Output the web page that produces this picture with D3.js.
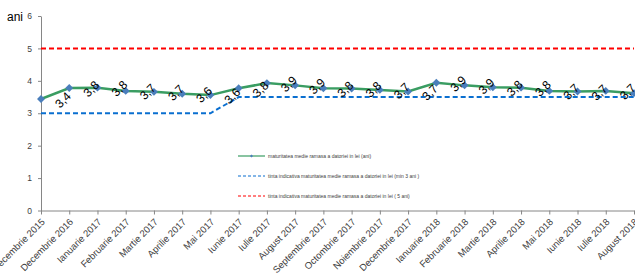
<!DOCTYPE html>
<html>
<head>
<meta charset="utf-8">
<script src="https://cdn.jsdelivr.net/npm/d3@7"></script>
<style>
  body { margin: 0; background: #fff; }
  svg { display: block; font-family: "Liberation Sans", Arial, sans-serif; }
</style>
</head>
<body>
<svg id="chart"></svg>
<script>
const months = ["Decembrie 2015", "Decembrie 2016", "Ianuarie 2017", "Februarie 2017", "Martie 2017",
    "Aprilie 2017", "Mai 2017", "Iunie 2017", "Iulie 2017", "August 2017", "Septembrie 2017",
    "Octombrie 2017", "Noiembrie 2017", "Decembrie 2017", "Ianuarie 2018", "Februarie 2018",
    "Martie 2018", "Aprilie 2018", "Mai 2018", "Iunie 2018", "Iulie 2018", "August 2018"];

const maturitate = [3.44, 3.78, 3.79, 3.69, 3.66, 3.60, 3.56, 3.77, 3.93, 3.86, 3.77,
    3.76, 3.72, 3.67, 3.94, 3.86, 3.80, 3.79, 3.69, 3.67, 3.69, 3.62];
const tintaMin = [3, 3, 3, 3, 3, 3, 3, 3.5, 3.5, 3.5, 3.5, 3.5, 3.5, 3.5, 3.5, 3.5, 3.5,
    3.5, 3.5, 3.5, 3.5, 3.5];
const tinta5 = [5, 5, 5, 5, 5, 5, 5, 5, 5, 5, 5, 5, 5, 5, 5, 5, 5, 5, 5, 5, 5, 5];

const yTicks = [0, 1, 2, 3, 4, 5, 6];

const legendLabels = ["maturitatea medie ramasa a datoriei in lei (ani)",
    "tinta indicativa maturitatea medie ramasa a datoriei in lei  (min 3 ani )",
    "tinta indicativa maturitatea medie ramasa a datoriei in lei  ( 5 ani)"];

const width = 635, height = 273;
const svg = d3.select("#chart").attr("width", width).attr("height", height);

const x = d3.scalePoint().domain(months).range([41, 634]);
const y = d3.scaleLinear().domain([0, 6]).range([210.5, 16]);

// axes
const yAxis = svg.append("g")
    .attr("transform", "translate(41,0)")
    .call(d3.axisLeft(y).tickValues(yTicks).tickFormat(d3.format("d"))
        .tickSize(3).tickSizeOuter(0).tickPadding(6));
yAxis.selectAll("path, line").attr("stroke", "#868686");
yAxis.selectAll("text").attr("fill", "#404040").style("font-size", "8.5px")
    .style("font-family", "Liberation Sans, Arial, sans-serif");

const xAxis = svg.append("g")
    .attr("transform", "translate(0,210.5)")
    .call(d3.axisBottom(x).tickSize(4).tickSizeOuter(0));
xAxis.selectAll("path, line").attr("stroke", "#868686");
xAxis.selectAll("text")
    .attr("fill", "#404040")
    .style("font-size", "9.5px")
    .style("font-family", "Liberation Sans, Arial, sans-serif")
    .attr("text-anchor", "end")
    .attr("x", 0).attr("y", 0).attr("dy", null)
    .attr("transform", "translate(4,12) rotate(-45)");

svg.append("text")
    .attr("x", 7).attr("y", 21)
    .style("font-size", "12px")
    .attr("fill", "#000")
    .text("ani");

const line = d3.line()
    .x((d, i) => x(months[i]))
    .y(d => y(d));

const series = [
    {values: tinta5, color: "#ff0000", dash: "5,3", width: 2},
    {values: tintaMin, color: "#0a6fd0", dash: "5,3", width: 2},
    {values: maturitate, color: "#3a9d62", dash: null, width: 2.5}
];

series.forEach(s => {
    svg.append("path")
        .datum(s.values)
        .attr("fill", "none")
        .attr("stroke", s.color)
        .attr("stroke-width", s.width)
        .attr("stroke-dasharray", s.dash)
        .attr("d", line);
});

// diamond markers
svg.append("g")
    .selectAll("path")
    .data(maturitate)
    .enter().append("path")
    .attr("d", d3.symbol(d3.symbolDiamond2, 40))
    .attr("transform", (d, i) => `translate(${x(months[i])},${y(d)})`)
    .attr("fill", "#4a7ebb");

// data labels
const fmt = d3.format(".1f");
svg.append("g")
    .selectAll("text")
    .data(maturitate)
    .enter().append("text")
    .attr("transform", (d, i) => `translate(${x(months[i]) + 22},${y(d) + 1}) rotate(-45)`)
    .attr("text-anchor", "middle")
    .attr("dominant-baseline", "central")
    .style("font-size", "12px")
    .attr("fill", "#000")
    .text(d => fmt(d).replace(".", ","));

// legend
const legend = svg.append("g");
const legendY = [156, 176, 196];
series.slice().reverse().forEach((s, i) => {
    legend.append("line")
        .attr("x1", 238).attr("x2", 265)
        .attr("y1", legendY[i]).attr("y2", legendY[i])
        .attr("stroke", s.color)
        .attr("stroke-width", s.dash ? 1.2 : 2)
        .attr("stroke-opacity", s.dash ? 1 : 0.6)
        .attr("stroke-dasharray", s.dash ? "3,2" : null);
    if (!s.dash) {
        legend.append("path")
            .attr("d", d3.symbol(d3.symbolDiamond2, 6))
            .attr("transform", `translate(251.5,${legendY[i]})`)
            .attr("fill", "#4a7ebb");
    }
    legend.append("text")
        .attr("x", 268).attr("y", legendY[i])
        .attr("dominant-baseline", "central")
        .style("font-size", "5px")
        .attr("fill", "#404040")
        .text(legendLabels[i]);
});
</script>
</body>
</html>
